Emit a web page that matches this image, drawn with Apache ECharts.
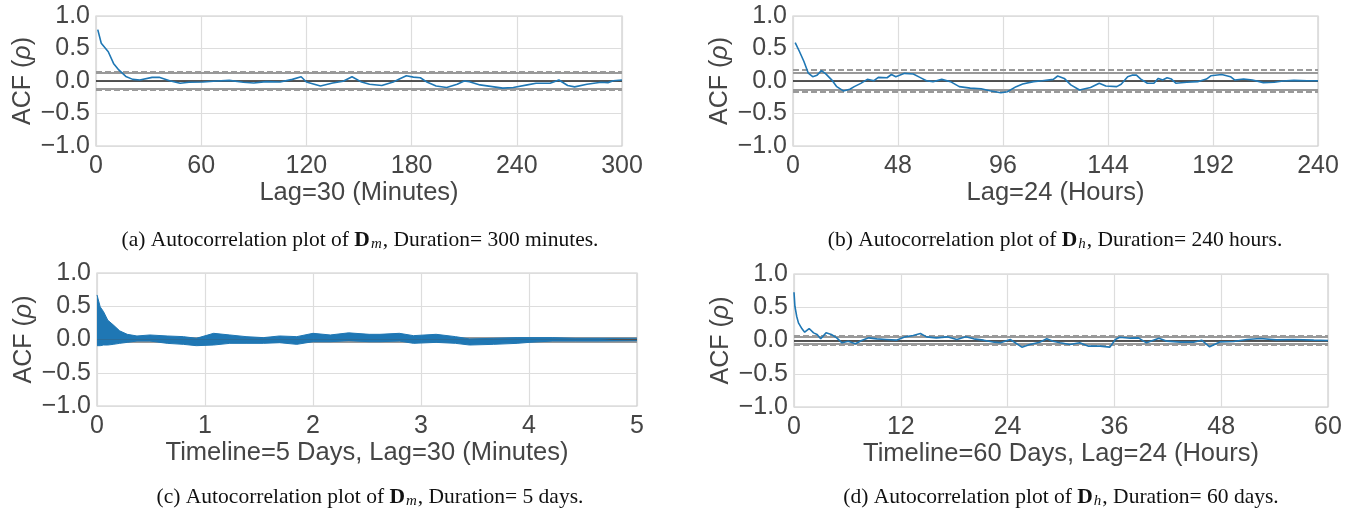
<!DOCTYPE html>
<html>
<head>
<meta charset="utf-8">
<title>ACF plots</title>
<script src="https://cdn.jsdelivr.net/npm/echarts@6.0.0/dist/echarts.min.js"></script>
<style>
  html, body { margin: 0; padding: 0; background: #fff; }
  #chart { width: 1358px; height: 519px; }
</style>
</head>
<body>
<div id="chart"></div>
<script>
// (a) D_m, 300 minutes
const aLag = [1,3,7,10,13,17,21,25,32,36,42,48,53,61,69,76,84,90,97,105,112,117,120,128,135,141,146,151,156,163,170,173,177,181,185,189,194,200,206,210,213,219,227,232,238,246,251,259,264,269,273,280,288,292,295,300]
const aAcf = [0.79,0.58,0.45,0.27,0.17,0.07,0.025,0.015,0.056,0.056,0.005,-0.035,-0.02,-0.015,0,0.01,-0.02,-0.03,-0.01,-0.015,0.025,0.066,-0.015,-0.077,-0.03,-0.005,0.066,-0.01,-0.05,-0.07,-0.01,0.03,0.08,0.06,0.05,-0.02,-0.077,-0.1,-0.05,0,-0.01,-0.06,-0.09,-0.11,-0.1,-0.06,-0.035,-0.035,0.015,-0.07,-0.09,-0.05,-0.02,-0.025,0.005,0.015]

// (b) D_h, 240 hours
const bLag = [1,3,5,7,9,11,13,15,18,20,23,26,28,31,34,37,39,43,45,47,51,55,58,61,64,68,72,76,81,86,90,95,98,102,105,110,114,119,121,124,127,131,136,140,143,148,150,153,155,157,159,162,165,167,169,171,173,175,180,185,189,191,196,200,202,206,210,215,220,224,229,235,240]
const bAcf = [0.59,0.45,0.30,0.12,0.066,0.09,0.16,0.11,0.005,-0.087,-0.153,-0.127,-0.087,-0.036,0.026,0.005,0.056,0.05,0.10,0.066,0.118,0.107,0.056,0.005,-0.01,0.025,-0.01,-0.087,-0.11,-0.12,-0.15,-0.18,-0.165,-0.087,-0.046,-0.01,0.005,0.025,0.077,0.04,-0.06,-0.138,-0.1,-0.035,-0.077,-0.087,-0.05,0.066,0.09,0.09,0.03,-0.035,-0.035,0.04,0.015,0.05,0.03,-0.035,-0.02,-0.01,0.03,0.08,0.1,0.066,0.015,0.03,0.015,-0.025,-0.02,0,0.01,0.005,0.005]

// (c) D_m, 5 days: dense band, read as upper / lower envelope
const cDay = [0,0.03,0.06,0.1,0.15,0.21,0.28,0.37,0.49,0.65,0.8,0.92,1.08,1.23,1.38,1.54,1.69,1.85,2.0,2.16,2.33,2.52,2.62,2.8,2.93,3.14,3.32,3.45,3.67,3.89,4.0,4.22,4.43,4.65,5.0]
const cUpper = [0.67,0.49,0.42,0.29,0.22,0.13,0.078,0.053,0.068,0.053,0.043,0.018,0.093,0.068,0.043,0.028,0.053,0.043,0.093,0.068,0.1,0.078,0.078,0.093,0.058,0.078,0.043,0.008,0.018,0.028,0.028,0.028,0.018,0.018,0.018]
const cLower = [-0.093,-0.093,-0.083,-0.083,-0.073,-0.058,-0.043,-0.023,-0.023,-0.058,-0.073,-0.093,-0.083,-0.058,-0.058,-0.058,-0.048,-0.073,-0.033,-0.033,-0.018,-0.033,-0.033,-0.023,-0.058,-0.043,-0.058,-0.083,-0.073,-0.058,-0.043,-0.023,-0.023,-0.023,-0.018]

// (d) D_h, 60 days
const dLag = [0,0.1,0.3,0.5,0.9,1.2,1.7,2.2,2.6,3.0,3.6,4.2,4.8,5.4,6.1,6.9,7.6,8.4,9.3,10.4,11.5,12.5,13.4,14.2,14.9,16.0,17.2,18.3,19.3,20.2,21.3,22.5,23.2,24.3,25.6,26.5,27.6,28.4,29.1,29.9,31.0,32.1,33.1,34.4,35.5,36.1,36.6,37.8,38.7,39.6,41.0,41.9,43.4,44.9,45.8,46.7,47.9,49.4,50.9,52.4,54.2,56.1,58.4,60]
const dAcf = [0.725,0.515,0.365,0.265,0.175,0.125,0.18,0.115,0.09,0.025,0.115,0.09,0.04,-0.035,-0.01,-0.05,0,0.04,0.025,0.015,0.005,0.055,0.075,0.105,0.055,0.04,0.055,0.015,0.055,0.025,0.005,-0.025,-0.035,0.015,-0.1,-0.06,-0.025,0.025,-0.01,-0.035,-0.06,-0.035,-0.085,-0.085,-0.1,0.015,0.05,0.035,0.04,-0.035,0.035,-0.01,-0.025,-0.025,0.005,-0.095,-0.02,-0.015,0.015,0.03,0.01,0.015,0.005,0]

// confidence lines [95%, 99%]
const aConf = [0.115, 0.145]
const bConf = [0.127, 0.166]
const cConf = [0.025, 0.033]
const dConf = [0.052, 0.068]

const xMax = [300, 240, 5, 60]
const xStep = [60, 48, 1, 12]
const xNames = ['Lag=30 (Minutes)', 'Lag=24 (Hours)', 'Timeline=5 Days, Lag=30 (Minutes)', 'Timeline=60 Days, Lag=24 (Hours)']

const BLUE = '#1f77b4'
const TXT = '#454545'
const SANS = '"Liberation Sans", Arial, sans-serif'
const SERIF = '"Liberation Serif", "Times New Roman", serif'

const pairs = (xs, ys) => xs.map((x, i) => [x, ys[i]])

const grids = [
  { left: 96, top: 16, width: 526, height: 130 },
  { left: 793, top: 16, width: 525, height: 130 },
  { left: 97, top: 273, width: 540, height: 133 },
  { left: 794, top: 274, width: 534, height: 133 },
].map(g => ({ ...g, show: true, borderColor: '#cccccc', borderWidth: 1.2 }))

const xAxes = xMax.map((max, i) => ({
  gridIndex: i, type: 'value', min: 0, max, interval: xStep[i],
  axisLine: { show: false }, axisTick: { show: false },
  splitLine: { show: true, lineStyle: { color: '#dddddd', width: 1.2 } },
  axisLabel: { color: TXT, fontSize: 25, fontFamily: SANS, margin: 8 },
  name: xNames[i], nameLocation: 'middle', nameGap: 32,
  nameTextStyle: { color: TXT, fontSize: 25.5, fontFamily: SANS },
}))

const yAxes = xMax.map((_, i) => ({
  gridIndex: i, type: 'value', min: -1, max: 1, interval: 0.5,
  axisLine: { show: false }, axisTick: { show: false },
  splitLine: { show: true, lineStyle: { color: '#dddddd', width: 1.2 } },
  axisLabel: { color: TXT, fontSize: 25, fontFamily: SANS, margin: 6,
    formatter: v => v.toFixed(1).replace('-', '\u2212') },
  name: 'ACF ({i|ρ})', nameLocation: 'middle', nameRotate: 90, nameGap: 60,
  nameTextStyle: { color: TXT, fontSize: 25, fontFamily: SANS,
    rich: { i: { fontStyle: 'italic', fontSize: 25, color: TXT, fontFamily: SANS } } },
}))

const refLines = (i, conf) => ({
  type: 'line', xAxisIndex: i, yAxisIndex: i, data: [], z: 1,
  markLine: {
    silent: true, symbol: ['none', 'none'], label: { show: false }, animation: false, z: 1,
    data: [
      { yAxis: conf[1], lineStyle: { color: '#9a9a9a', type: [6, 3], width: 2 } },
      { yAxis: conf[0], lineStyle: { color: '#9a9a9a', type: 'solid', width: 2 } },
      { yAxis: 0, lineStyle: { color: '#1e1e1e', type: 'solid', width: 1.6 } },
      { yAxis: -conf[0], lineStyle: { color: '#9a9a9a', type: 'solid', width: 2 } },
      { yAxis: -conf[1], lineStyle: { color: '#9a9a9a', type: [6, 3], width: 2 } },
    ],
  },
})

const acfLine = (i, data) => ({
  type: 'line', xAxisIndex: i, yAxisIndex: i, data, z: 3,
  showSymbol: false, symbol: 'none', animation: false,
  lineStyle: { color: BLUE, width: 1.6 },
})

const bandHalf = (data) => ({
  type: 'line', xAxisIndex: 2, yAxisIndex: 2, data, z: 3,
  showSymbol: false, symbol: 'none', animation: false,
  lineStyle: { color: BLUE, width: 1 },
  areaStyle: { color: BLUE, opacity: 1, origin: 0 },
})

const caption = (x, y, tag, sub, rest) => ({
  type: 'text', x, y,
  style: {
    text: `${tag} Autocorrelation plot of {b|D}{s|${sub}}, Duration= ${rest}`,
    align: 'center', verticalAlign: 'middle',
    fill: '#111', fontSize: 21.5, fontFamily: SERIF, lineHeight: 24,
    rich: {
      b: { fontWeight: 'bold', fontSize: 21.5, fontFamily: SERIF, fill: '#111', lineHeight: 24 },
      s: { fontStyle: 'italic', fontSize: 15, fontFamily: SERIF, fill: '#111',
        verticalAlign: 'bottom', lineHeight: 14, padding: [0, 1, 0, 1] },
    },
  },
})

const chart = echarts.init(document.getElementById('chart'))
chart.setOption({
  backgroundColor: '#fff',
  animation: false,
  grid: grids,
  xAxis: xAxes,
  yAxis: yAxes,
  series: [
    refLines(0, aConf), acfLine(0, pairs(aLag, aAcf)),
    refLines(1, bConf), acfLine(1, pairs(bLag, bAcf)),
    refLines(2, cConf), bandHalf(pairs(cDay, cUpper)), bandHalf(pairs(cDay, cLower)),
    refLines(3, dConf), acfLine(3, pairs(dLag, dAcf)),
  ],
  graphic: [
    caption(360, 240, '(a)', 'm', '300 minutes.'),
    caption(1055, 240, '(b)', 'h', '240 hours.'),
    caption(370, 497, '(c)', 'm', '5 days.'),
    caption(1061, 497, '(d)', 'h', '60 days.'),
  ],
})
</script>
</body>
</html>
